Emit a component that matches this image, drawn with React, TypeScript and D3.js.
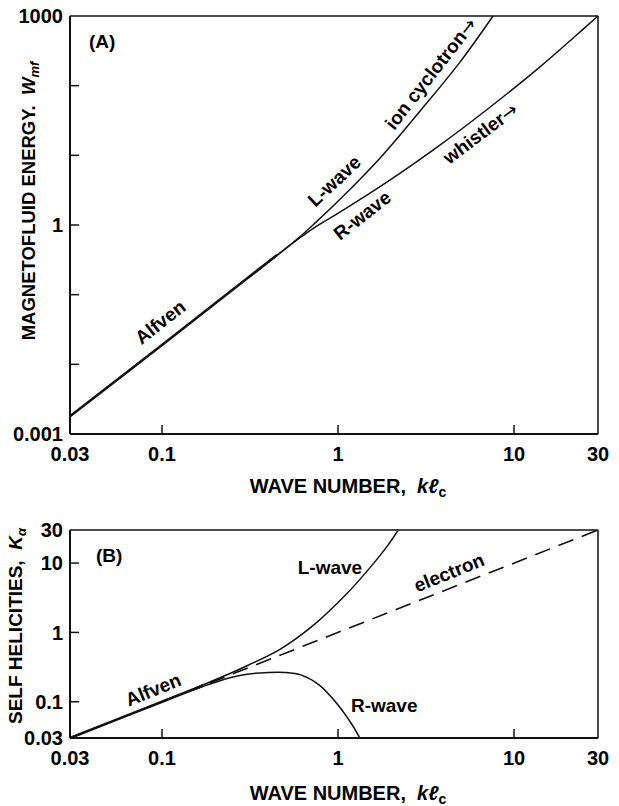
import React from "react";
import * as d3 from "d3";

// wave number axis (shared)
const kTickVals = [0.03, 0.1, 1, 10, 30];
const kTickLabels = ["0.03", "0.1", "1", "10", "30"];
const kTickMarks = [0.1, 1, 10];

// panel A : magnetofluid energy
const aTickVals = [0.001, 1, 1000];
const aTickLabels = ["0.001", "1", "1000"];
const aTickMarks = [0.01, 0.1, 1, 10, 100];

const alfvenA_k = [0.03, 0.1, 0.3, 0.45];
const alfvenA_W = [0.0018, 0.019, 0.166, 0.37];
const lwaveA_k = [0.4, 0.6, 0.75, 1.03, 1.73, 2.92, 4.93, 7.6];
const lwaveA_W = [0.29, 0.66, 1.1, 2.36, 9.1, 43, 218, 1000];
const rwaveA_k = [0.4, 0.6, 0.75, 1.03, 1.97, 3.79, 7.3, 14, 22, 30];
const rwaveA_W = [0.29, 0.64, 0.95, 1.54, 4.4, 14, 49, 185, 500, 1000];

// panel B : self helicities
const bTickVals = [0.03, 0.1, 1, 10, 30];
const bTickLabels = ["0.03", "0.1", "1", "10", "30"];
const bTickMarks = [0.1, 1, 10];

const alfvenB_k = [0.03, 0.1, 0.17];
const alfvenB_K = [0.03, 0.1, 0.17];
const electronB_k = [0.03, 30];
const electronB_K = [0.03, 30];
const lwaveB_k = [0.15, 0.243, 0.304, 0.468, 0.72, 1.12, 1.52, 1.9, 2.2];
const lwaveB_K = [0.152, 0.255, 0.33, 0.57, 1.25, 3.6, 8.6, 17.4, 30];
const rwaveB_k = [0.15, 0.243, 0.304, 0.4, 0.5, 0.62, 0.78, 1.0, 1.2, 1.33];
const rwaveB_K = [0.148, 0.222, 0.25, 0.265, 0.265, 0.242, 0.175, 0.09, 0.047, 0.03];

const FONT = "'Liberation Sans', Arial, Helvetica, sans-serif";

function zip(xs: number[], ys: number[]) {
  return xs.map((x, i) => [x, ys[i]] as [number, number]);
}

function Panel({ top, bottom, yDomain, yTickVals, yTickLabels, yTickMarks, children }: any) {
  const left = 70, right = 598;
  const x = d3.scaleLog().domain([0.03, 30]).range([left, right]);
  const y = d3.scaleLog().domain(yDomain).range([bottom, top]);
  return (
    <g>
      {/* frame */}
      <line x1={left} x2={right} y1={top} y2={top} stroke="#111" strokeWidth={1.5} />
      <line x1={right} x2={right} y1={top} y2={bottom} stroke="#111" strokeWidth={1.5} />
      <line x1={left} x2={left} y1={top} y2={bottom} stroke="#111" strokeWidth={2} />
      <line x1={left} x2={right} y1={bottom} y2={bottom} stroke="#111" strokeWidth={2} />
      {kTickMarks.map((t) => (
        <line key={"kx" + t} x1={x(t)} x2={x(t)} y1={bottom} y2={bottom - 9} stroke="#111" strokeWidth={1.5} />
      ))}
      {yTickMarks.map((t: number) => (
        <line key={"ym" + t} x1={left} x2={left + 9} y1={y(t)} y2={y(t)} stroke="#111" strokeWidth={1.5} />
      ))}
      {kTickVals.map((t, i) => (
        <text key={"kl" + t} x={x(t)} y={bottom + 27} textAnchor="middle" fontSize={20} fontWeight="bold" fontFamily={FONT}>
          {kTickLabels[i]}
        </text>
      ))}
      {yTickVals.map((t: number, i: number) => (
        <text key={"yl" + t} x={left - 7} y={y(t)} dy="0.36em" textAnchor="end" fontSize={20} fontWeight="bold" fontFamily={FONT}>
          {yTickLabels[i]}
        </text>
      ))}
      {children(x, y)}
    </g>
  );
}

function Curve({ x, y, data, width = 1.5, dash }: any) {
  const gen = d3.line<[number, number]>()
    .x((d) => x(d[0]))
    .y((d) => y(d[1]))
    .curve(d3.curveCatmullRom.alpha(0.5));
  return <path d={gen(data) || ""} fill="none" stroke="#111" strokeWidth={width} strokeDasharray={dash} />;
}

function Label({ x, y, k, v, text, angle = 0, arrow = false }: any) {
  const px = x(k), py = y(v);
  return (
    <text x={px} y={py} dy="0.36em" textAnchor="middle" fontSize={19} fontWeight="bold" fontFamily={FONT}
      transform={`rotate(${angle},${px},${py})`}>
      {text}
      {arrow ? <tspan fontFamily="'DejaVu Sans', sans-serif" fontWeight="normal">→</tspan> : null}
    </text>
  );
}

export default function App() {
  return (
    <svg width={619} height={806} style={{ position: "absolute", left: 0, top: 0, background: "#fff" }}>
      <rect width={619} height={806} fill="#fff" />
      <Panel top={16} bottom={434} yDomain={[0.001, 1000]} yTickVals={aTickVals} yTickLabels={aTickLabels} yTickMarks={aTickMarks}>
        {(x: any, y: any) => (
          <g>
            <Curve x={x} y={y} data={zip(alfvenA_k, alfvenA_W)} width={2.6} />
            <Curve x={x} y={y} data={zip(lwaveA_k, lwaveA_W)} />
            <Curve x={x} y={y} data={zip(rwaveA_k, rwaveA_W)} />
            <text x={89} y={48} fontSize={19} fontWeight="bold" fontFamily={FONT}>(A)</text>
            <Label x={x} y={y} k={0.0975} v={0.0406} text="Alfven" angle={-38} />
            <Label x={x} y={y} k={0.95} v={4.3} text="L-wave" angle={-43} />
            <Label x={x} y={y} k={1.37} v={1.39} text="R-wave" angle={-38} />
            <Label x={x} y={y} k={3.35} v={150} text="ion cyclotron" angle={-52} arrow />
            <Label x={x} y={y} k={6.43} v={20.9} text="whistler" angle={-37} arrow />
          </g>
        )}
      </Panel>
      <Panel top={530} bottom={738} yDomain={[0.03, 30]} yTickVals={bTickVals} yTickLabels={bTickLabels} yTickMarks={bTickMarks}>
        {(x: any, y: any) => (
          <g>
            <Curve x={x} y={y} data={zip(electronB_k, electronB_K)} width={1.6} dash="16,9" />
            <Curve x={x} y={y} data={zip(alfvenB_k, alfvenB_K)} width={2.6} />
            <Curve x={x} y={y} data={zip(lwaveB_k, lwaveB_K)} />
            <Curve x={x} y={y} data={zip(rwaveB_k, rwaveB_K)} />
            <text x={96} y={562} fontSize={19} fontWeight="bold" fontFamily={FONT}>(B)</text>
            <Label x={x} y={y} k={0.089} v={0.15} text="Alfven" angle={-22} />
            <Label x={x} y={y} k={0.9} v={8.7} text="L-wave" />
            <Label x={x} y={y} k={4.27} v={7.35} text="electron" angle={-22} />
            <Label x={x} y={y} k={1.83} v={0.088} text="R-wave" />
          </g>
        )}
      </Panel>
      {/* axis titles */}
      <text x={348} y={493} textAnchor="middle" fontSize={20} fontWeight="bold" fontFamily={FONT}>
        WAVE NUMBER,{"\u00a0\u00a0"}<tspan fontStyle="italic">kℓ</tspan><tspan fontSize={14} dy={4}>c</tspan>
      </text>
      <text x={348} y={800} textAnchor="middle" fontSize={20} fontWeight="bold" fontFamily={FONT}>
        WAVE NUMBER,{"\u00a0\u00a0"}<tspan fontStyle="italic">kℓ</tspan><tspan fontSize={14} dy={4}>c</tspan>
      </text>
      <text transform="translate(35,201) rotate(-90)" textAnchor="middle" fontSize={18.5} fontWeight="bold" fontFamily={FONT}>
        MAGNETOFLUID ENERGY.{"\u00a0\u00a0"}<tspan fontStyle="italic">W</tspan><tspan fontStyle="italic" fontSize={13} dy={4}>mf</tspan>
      </text>
      <text transform="translate(22,626) rotate(-90)" textAnchor="middle" fontSize={19} fontWeight="bold" fontFamily={FONT}>
        SELF HELICITIES,{"\u00a0\u00a0"}<tspan fontStyle="italic">K</tspan><tspan fontStyle="italic" fontSize={13} dy={4}>α</tspan>
      </text>
    </svg>
  );
}
